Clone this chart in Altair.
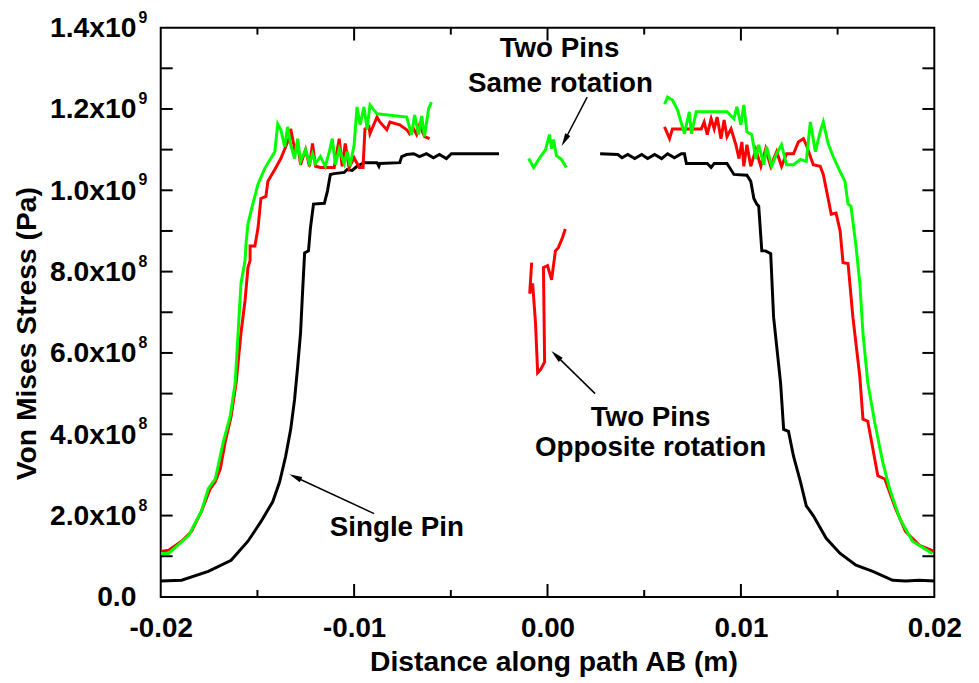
import altair as alt
import pandas as pd

FONT = "Liberation Sans"

# ---------------- data (x in m, y in units of 1e9 Pa) ----------------
black_left = [(-0.02000, 0.039), (-0.01892, 0.041), (-0.01754, 0.063), (-0.01636, 0.090), (-0.01549, 0.137),
              (-0.01482, 0.185), (-0.01421, 0.234), (-0.01385, 0.283), (-0.01354, 0.346), (-0.01328, 0.412),
              (-0.01308, 0.485), (-0.01292, 0.566), (-0.01277, 0.649), (-0.01267, 0.746), (-0.01256, 0.846),
              (-0.01236, 0.851), (-0.01226, 0.907), (-0.01210, 0.966), (-0.01154, 0.968), (-0.01138, 0.998),
              (-0.01123, 1.039), (-0.01103, 1.041), (-0.01051, 1.044), (-0.01036, 1.051), (-0.01010, 1.049),
              (-0.00985, 1.059), (-0.00949, 1.068), (-0.00882, 1.068), (-0.00872, 1.059), (-0.00867, 1.066),
              (-0.00764, 1.068), (-0.00754, 1.083), (-0.00728, 1.088), (-0.00692, 1.090), (-0.00662, 1.083),
              (-0.00626, 1.090), (-0.00590, 1.080), (-0.00559, 1.088), (-0.00523, 1.078), (-0.00497, 1.090),
              (-0.00369, 1.090), (-0.00251, 1.090)]
black_right = [(0.00272, 1.090), (0.00364, 1.088), (0.00385, 1.080), (0.00415, 1.088), (0.00451, 1.078),
               (0.00487, 1.088), (0.00518, 1.078), (0.00554, 1.088), (0.00590, 1.078), (0.00621, 1.090),
               (0.00656, 1.080), (0.00692, 1.090), (0.00708, 1.090), (0.00718, 1.066), (0.00826, 1.066),
               (0.00846, 1.056), (0.00862, 1.066), (0.00928, 1.066), (0.00964, 1.039), (0.01031, 1.037),
               (0.01051, 1.022), (0.01067, 0.980), (0.01082, 0.966), (0.01092, 0.961), (0.01108, 0.851),
               (0.01128, 0.851), (0.01154, 0.844), (0.01169, 0.688), (0.01205, 0.527), (0.01221, 0.412),
               (0.01246, 0.407), (0.01272, 0.346), (0.01308, 0.283), (0.01338, 0.224), (0.01374, 0.200),
               (0.01441, 0.144), (0.01513, 0.107), (0.01595, 0.078), (0.01682, 0.063), (0.01785, 0.041),
               (0.01851, 0.039), (0.01923, 0.041), (0.02000, 0.039)]

red_left = [(-0.02000, 0.112), (-0.01959, 0.115), (-0.01892, 0.137), (-0.01841, 0.161), (-0.01790, 0.210),
            (-0.01744, 0.266), (-0.01718, 0.283), (-0.01692, 0.315), (-0.01667, 0.380), (-0.01636, 0.444),
            (-0.01610, 0.527), (-0.01585, 0.649), (-0.01564, 0.729), (-0.01549, 0.810), (-0.01538, 0.827),
            (-0.01538, 0.863), (-0.01513, 0.863), (-0.01497, 0.907), (-0.01482, 0.980), (-0.01456, 0.985),
            (-0.01446, 1.022), (-0.01410, 1.051), (-0.01379, 1.078), (-0.01354, 1.107), (-0.01333, 1.132),
            (-0.01328, 1.151), (-0.01308, 1.102), (-0.01292, 1.115), (-0.01277, 1.063), (-0.01251, 1.100),
            (-0.01231, 1.059), (-0.01215, 1.115), (-0.01200, 1.059), (-0.01174, 1.056), (-0.01138, 1.056),
            (-0.01103, 1.056), (-0.01077, 1.127), (-0.01062, 1.059), (-0.01046, 1.115), (-0.01026, 1.056),
            (-0.01000, 1.080), (-0.00974, 1.056), (-0.00954, 1.056), (-0.00944, 1.151), (-0.00923, 1.156),
            (-0.00918, 1.139), (-0.00897, 1.163), (-0.00882, 1.180), (-0.00867, 1.168), (-0.00831, 1.149),
            (-0.00815, 1.168), (-0.00764, 1.161), (-0.00728, 1.149), (-0.00713, 1.139), (-0.00692, 1.151),
            (-0.00677, 1.137), (-0.00662, 1.161), (-0.00636, 1.132), (-0.00610, 1.127)]
red_center = [(-0.00082, 0.822), (-0.00092, 0.746), (-0.00077, 0.771), (-0.00062, 0.673), (-0.00051, 0.551),
              (-0.00036, 0.559), (-0.00015, 0.578), (-0.00021, 0.810), (0.00000, 0.815), (0.00021, 0.780),
              (0.00041, 0.851), (0.00056, 0.859), (0.00077, 0.883), (0.00092, 0.905)]
red_right = [(0.00605, 1.156), (0.00631, 1.127), (0.00646, 1.151), (0.00795, 1.151), (0.00810, 1.168),
             (0.00826, 1.137), (0.00846, 1.176), (0.00862, 1.151), (0.00877, 1.180), (0.00897, 1.127),
             (0.00913, 1.173), (0.00928, 1.132), (0.00949, 1.151), (0.00974, 1.112), (0.00990, 1.078),
             (0.01005, 1.119), (0.01015, 1.059), (0.01031, 1.112), (0.01051, 1.059), (0.01077, 1.100),
             (0.01103, 1.059), (0.01128, 1.102), (0.01154, 1.059), (0.01185, 1.095), (0.01210, 1.059),
             (0.01236, 1.090), (0.01272, 1.090), (0.01297, 1.119), (0.01323, 1.127), (0.01338, 1.112),
             (0.01374, 1.063), (0.01410, 1.059), (0.01426, 1.039), (0.01451, 0.980), (0.01467, 0.941),
             (0.01492, 0.944), (0.01513, 0.900), (0.01528, 0.822), (0.01554, 0.820), (0.01579, 0.688),
             (0.01615, 0.541), (0.01631, 0.437), (0.01656, 0.432), (0.01708, 0.298), (0.01744, 0.290),
             (0.01800, 0.217), (0.01851, 0.161), (0.01923, 0.127), (0.02000, 0.112)]

green_left = [(-0.02000, 0.107), (-0.01959, 0.107), (-0.01856, 0.151), (-0.01790, 0.210), (-0.01754, 0.266),
              (-0.01718, 0.290), (-0.01677, 0.380), (-0.01641, 0.444), (-0.01615, 0.527), (-0.01600, 0.649),
              (-0.01585, 0.771), (-0.01564, 0.827), (-0.01559, 0.868), (-0.01549, 0.917), (-0.01523, 0.968),
              (-0.01497, 1.015), (-0.01462, 1.054), (-0.01410, 1.095), (-0.01395, 1.163), (-0.01379, 1.149),
              (-0.01359, 1.107), (-0.01344, 1.156), (-0.01328, 1.112), (-0.01308, 1.078), (-0.01292, 1.127),
              (-0.01277, 1.071), (-0.01251, 1.100), (-0.01231, 1.066), (-0.01215, 1.090), (-0.01200, 1.066),
              (-0.01174, 1.083), (-0.01149, 1.059), (-0.01128, 1.095), (-0.01113, 1.127), (-0.01097, 1.063),
              (-0.01077, 1.102), (-0.01051, 1.066), (-0.01036, 1.095), (-0.01021, 1.059), (-0.01000, 1.112),
              (-0.00985, 1.205), (-0.00969, 1.161), (-0.00949, 1.205), (-0.00933, 1.151), (-0.00918, 1.210),
              (-0.00882, 1.188), (-0.00728, 1.180), (-0.00703, 1.137), (-0.00687, 1.185), (-0.00667, 1.137),
              (-0.00651, 1.183), (-0.00636, 1.132), (-0.00615, 1.200), (-0.00600, 1.217)]
green_center = [(-0.00097, 1.078), (-0.00072, 1.056), (-0.00036, 1.083), (-0.00010, 1.100), (0.00010, 1.137),
                (0.00021, 1.102), (0.00031, 1.125), (0.00046, 1.085), (0.00072, 1.076), (0.00097, 1.056)]
green_right = [(0.00605, 1.212), (0.00621, 1.229), (0.00646, 1.222), (0.00672, 1.198), (0.00708, 1.139),
               (0.00733, 1.193), (0.00744, 1.139), (0.00769, 1.193), (0.00928, 1.193), (0.00964, 1.176),
               (0.00979, 1.205), (0.01000, 1.161), (0.01015, 1.210), (0.01031, 1.144), (0.01056, 1.137),
               (0.01077, 1.078), (0.01092, 1.112), (0.01118, 1.063), (0.01133, 1.107), (0.01159, 1.059),
               (0.01185, 1.090), (0.01210, 1.112), (0.01236, 1.063), (0.01272, 1.063), (0.01308, 1.076),
               (0.01338, 1.071), (0.01359, 1.168), (0.01385, 1.095), (0.01410, 1.144), (0.01426, 1.168),
               (0.01451, 1.115), (0.01477, 1.083), (0.01513, 1.046), (0.01538, 1.022), (0.01554, 0.966),
               (0.01569, 0.961), (0.01595, 0.863), (0.01615, 0.771), (0.01631, 0.649), (0.01656, 0.527),
               (0.01692, 0.429), (0.01733, 0.332), (0.01769, 0.266), (0.01821, 0.193), (0.01887, 0.137),
               (0.01990, 0.107)]

# axis labels / ticks
x_label_vals = [-0.02, -0.01, 0.0, 0.01, 0.02]
x_major_ticks = [-0.01, 0.0, 0.01]
x_minor_ticks = [-0.015, -0.005, 0.005, 0.015]
y_label_vals = [0.0, 0.2, 0.4, 0.6, 0.8, 1.0, 1.2, 1.4]
y_tick_vals = [0.1, 0.2, 0.3, 0.4, 0.5, 0.6, 0.7, 0.8, 0.9, 1.0, 1.1, 1.2, 1.3]
sup_vals = [0.2, 0.4, 0.6, 0.8, 1.0, 1.2, 1.4]
sup_txt = ["8", "8", "8", "8", "9", "9", "9"]

# annotations
note_x = [0.00062, 0.00067, 0.00533, 0.00533, -0.00779]
note_y = [1.329, 1.241, 0.420, 0.346, 0.151]
note_txt = ["Two Pins", "Same rotation", "Two Pins", "Opposite rotation", "Single Pin"]

arrow_x = [-0.00897, 0.00205, 0.00246]
arrow_y = [0.205, 1.229, 0.500]
arrow_x2 = [-0.01305, 0.00089, 0.00044]
arrow_y2 = [0.295, 1.123, 0.594]
arrow_ang = [295, 208, 314]

W, H = 780, 574


def make_df(parts):
    rows = []
    for seg, pts in enumerate(parts):
        for i, (a, b) in enumerate(pts):
            rows.append({"x": a, "y": b, "seg": seg, "i": i})
    return pd.DataFrame(rows)


x_scale = alt.Scale(domain=[-0.02, 0.02], nice=False, zero=False)
y_scale = alt.Scale(domain=[0, 1.4], nice=False, zero=False)

x_axis = alt.Axis(values=x_label_vals,
                  labelExpr="(datum.value < -0.0001 ? '-' : '') + format(abs(datum.value), '.2f')",
                  ticks=False, tickSize=0, domain=False, grid=False,
                  labelFont=FONT, labelFontSize=28, labelFontWeight="bold", labelColor="black",
                  labelPadding=18, labelFlush=False, labelOverlap=False, labelBound=False,
                  title="Distance along path AB (m)", titleFont=FONT, titleFontSize=28.5,
                  titleFontWeight="bold", titleColor="black", titleX=396, titleY=74,
                  titleBaseline="alphabetic", titleAlign="center")
y_axis = alt.Axis(values=y_label_vals,
                  labelExpr="datum.value < 0.05 ? '0.0' : (datum.value >= 0.95 ? format(datum.value, '.1f') : format(datum.value * 10, '.1f')) + 'x10'",
                  ticks=False, tickSize=0, domain=False, grid=False,
                  labelFont=FONT, labelFontSize=28.5, labelFontWeight="bold", labelColor="black",
                  labelPadding=25, labelOverlap=False, labelBound=False, labelFlush=False,
                  title="Von Mises Stress (Pa)", titleFont=FONT, titleFontSize=28.5,
                  titleFontWeight="bold", titleColor="black", titleX=-135, titleY=308,
                  titleAngle=270, titleBaseline="middle", titleAlign="center")


def X(field):
    return alt.X(field, type="quantitative", scale=x_scale, axis=x_axis)


def Y(field):
    return alt.Y(field, type="quantitative", scale=y_scale, axis=y_axis)


def line_layer(parts, color):
    return alt.Chart(make_df(parts)).mark_line(color=color, strokeWidth=3, clip=True).encode(
        x=X("x"), y=Y("y"), detail="seg:N", order="i:Q")


black = line_layer([black_left, black_right], "black")
red = line_layer([red_left, red_center, red_right], "#ff0000")
green = line_layer([green_left, green_center, green_right], "#00ff00")

ydf = pd.DataFrame({"y": y_tick_vals})
y_left_ticks = alt.Chart(ydf).mark_rule(color="black", strokeWidth=2).encode(
    y=Y("y"), x=alt.value(0), x2=alt.value(12))
y_right_ticks = alt.Chart(ydf).mark_rule(color="black", strokeWidth=2).encode(
    y=Y("y"), x=alt.value(W - 12), x2=alt.value(W))

xmaj = pd.DataFrame({"x": x_major_ticks})
xmin = pd.DataFrame({"x": x_minor_ticks})
x_ticks = []
for df, ln in [(xmaj, 13), (xmin, 7)]:
    x_ticks.append(alt.Chart(df).mark_rule(color="black", strokeWidth=2).encode(
        x=X("x"), y=alt.value(H - ln), y2=alt.value(H)))
    x_ticks.append(alt.Chart(df).mark_rule(color="black", strokeWidth=2).encode(
        x=X("x"), y=alt.value(0), y2=alt.value(ln)))

sup = alt.Chart(pd.DataFrame({"y": sup_vals, "t": sup_txt})).mark_text(
    font=FONT, fontSize=16, fontWeight="bold", color="black", align="center", baseline="middle", dy=-10
).encode(y=Y("y"), x=alt.value(-18), text="t:N")

notes = alt.Chart(pd.DataFrame({"x": note_x, "y": note_y, "t": note_txt})).mark_text(
    font=FONT, fontSize=28, fontWeight="bold", color="black", align="center", baseline="alphabetic"
).encode(x=X("x"), y=Y("y"), text="t:N")

adf = pd.DataFrame({"x": arrow_x, "y": arrow_y, "x2": arrow_x2, "y2": arrow_y2, "a": arrow_ang})
arrow_lines = alt.Chart(adf).mark_rule(color="black", strokeWidth=1.5).encode(
    x=X("x"), y=Y("y"), x2="x2:Q", y2="y2:Q")
arrow_heads = alt.Chart(adf).mark_point(
    shape="M0,-1L0.45,1L-0.45,1Z", filled=True, color="black", opacity=1, size=170, strokeWidth=0
).encode(x=X("x2"), y=Y("y2"), angle=alt.Angle("a:Q", scale=None))

chart = alt.layer(black, red, green, y_left_ticks, y_right_ticks, *x_ticks, sup, notes,
                  arrow_lines, arrow_heads).properties(
    width=W, height=H,
    autosize=alt.AutoSizeParams(type="none"),
    padding={"left": 154, "top": 17, "right": 37, "bottom": 84},
    background="white",
).configure_view(stroke="black", strokeWidth=2)

chart.save("out.html", embed_options={"renderer": "svg", "actions": False})
